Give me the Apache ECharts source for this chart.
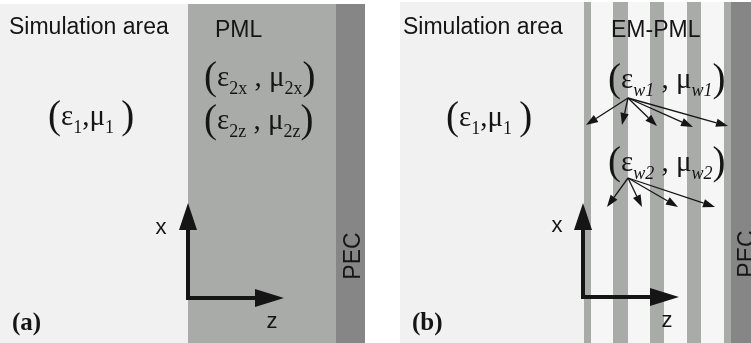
<!DOCTYPE html>
<html>
<head>
<meta charset="utf-8">
<script src="https://cdn.jsdelivr.net/npm/echarts@6/dist/echarts.min.js"></script>
<style>
html, body { margin: 0; padding: 0; background: #ffffff; }
#chart { width: 751px; height: 343px; }
</style>
</head>
<body>
<div id="chart"></div>
<script>
// ---- Layer layout (z runs left to right, x runs top to bottom, in layout units) ----
// Panel (a): simulation area | PML | PEC
const layerStartA = [0, 188, 336];
const layerEndA   = [188, 336, 365];
const layerKindA  = ['sim', 'pml', 'pec'];
// Panel (b): simulation area | alternating EM-PML sheets | PEC
const layerStartB = [400, 584, 591, 613, 628, 650, 664, 687, 701, 724, 731];
const layerEndB   = [584, 591, 613, 628, 650, 664, 687, 701, 724, 731, 751];
const layerKindB  = ['sim', 'w', 'v', 'w', 'v', 'w', 'v', 'w', 'v', 'w', 'pec'];
const panelTop    = [4, 2];
const panelBottom = 343;

// ---- Region titles ----
const titleText = ['Simulation area', 'PML', 'Simulation area', 'EM-PML'];
const titleX    = [9, 215, 403, 611];
const titleY    = [34, 37, 34, 37];

// ---- Material parameter expressions: '(' ')' large parens, '_' roman subscript, '~' italic subscript ----
const exprText = [
  '(|ε|_1|,|μ|_1| |)',
  '(|ε|_2x| , |μ|_2x|)',
  '(|ε|_2z| , |μ|_2z|)',
  '(|ε|_1|,|μ|_1| |)',
  '(|ε|~w1| , |μ|~w1|)',
  '(|ε|~w2| , |μ|~w2|)'
];
const exprX = [48, 204, 204, 446, 608, 608];
const exprY = [125, 86, 129, 126, 88, 171];

// ---- Pointer fans from the sheet parameters to the sheets ----
const fanOrigin = [[628, 98], [628, 178]];
const fanTargets = [
  [[586, 125], [622, 125], [657, 126], [693, 127], [728, 126]],
  [[607, 207], [642, 207], [678, 207], [715, 207]]
];

// ---- Coordinate frames: origin, x-axis tip, z-axis tip ----
const frameOrigin = [[188, 298], [583, 297]];
const frameXTip   = [[188, 203], [583, 203]];
const frameZTip   = [[284, 298], [679, 297]];
const axisLabel   = ['x', 'z', 'x', 'z'];
const axisLabelX  = [161, 272, 557, 667];
const axisLabelY  = [228, 322, 226, 321];

// ---- Boundary label and panel tags ----
const pecText = ['PEC', 'PEC'];
const pecX = [351, 745];
const pecY = [256, 254];
const tagText = ['(a)', '(b)'];
const tagX = [12, 412];
const tagY = [330, 330];

// ---- Styles ----
const materialColor = {
  sim: '#f1f1f1',
  pml: '#a9aba9',
  pec: '#858685',
  w:   '#a9aba9',
  v:   '#f6f6f6'
};
const INK = '#151515';
const SERIF = '"Liberation Serif", "Times New Roman", serif';
const SANS = '"Liberation Sans", Arial, sans-serif';
const FONT_MAIN = '29px ' + SERIF;
const FONT_PAREN = '39px ' + SERIF;
const FONT_SUB = '18px ' + SERIF;
const FONT_SUBI = 'italic 18px ' + SERIF;
const FONT_TITLE = '23px ' + SANS;
const FONT_AXIS = '22px ' + SANS;
const FONT_TAG = 'bold 25px ' + SERIF;
const SUB_DROP = 8;
const PAREN_DROP = 3;

// Canvas measuring helpers, so text can be placed by its alphabetic baseline
const mctx = document.createElement('canvas').getContext('2d');
function textWidth(font, s) {
  mctx.font = font; mctx.textBaseline = 'alphabetic';
  return mctx.measureText(s).width;
}
function capHeight(font) {
  mctx.font = font; mctx.textBaseline = 'alphabetic';
  return mctx.measureText('H').actualBoundingBoxAscent;
}
function middleToBaseline(font) {
  mctx.font = font; mctx.textBaseline = 'alphabetic';
  const a = mctx.measureText('H').actualBoundingBoxAscent;
  mctx.textBaseline = 'middle';
  const b = mctx.measureText('H').actualBoundingBoxAscent;
  return a - b;
}
function textEl(s, font, x, baseline, align) {
  const al = align || 'left';
  return {
    type: 'text',
    x: x,
    y: baseline - middleToBaseline(font),
    style: {
      text: s, font: font, fill: INK,
      align: al, textAlign: al,
      verticalAlign: 'middle', textVerticalAlign: 'middle'
    }
  };
}

function layerData(starts, ends, top) {
  return starts.map((s, i) => [s, ends[i], top, panelBottom]);
}
const layerKinds = layerKindA.concat(layerKindB);

function arrowHead(tip, from, len, half) {
  const dx = tip[0] - from[0], dy = tip[1] - from[1];
  const d = Math.sqrt(dx * dx + dy * dy);
  const ux = dx / d, uy = dy / d;
  const bx = tip[0] - ux * len, by = tip[1] - uy * len;
  return {
    base: [bx, by],
    pts: [tip, [bx - uy * half, by + ux * half], [bx + uy * half, by - ux * half]]
  };
}

const fanData = [];
fanOrigin.forEach((o, i) => fanTargets[i].forEach(t => fanData.push([o[0], o[1], t[0], t[1]])));

const frameData = frameOrigin.map((o, i) => [o[0], o[1], frameXTip[i][0], frameXTip[i][1], frameZTip[i][0], frameZTip[i][1]]);

const chart = echarts.init(document.getElementById('chart'), null, { renderer: 'canvas' });

const option = {
  animation: false,
  backgroundColor: '#ffffff',
  grid: { left: 0, right: 0, top: 0, bottom: 0 },
  xAxis: { type: 'value', min: 0, max: 751, show: false },
  yAxis: { type: 'value', min: 0, max: 343, inverse: true, show: false },
  series: [
    {
      // material layers
      type: 'custom',
      coordinateSystem: 'cartesian2d',
      silent: true,
      clip: false,
      data: layerData(layerStartA, layerEndA, panelTop[0]).concat(layerData(layerStartB, layerEndB, panelTop[1])),
      renderItem: function (params, api) {
        const p0 = api.coord([api.value(0), api.value(2)]);
        const p1 = api.coord([api.value(1), api.value(3)]);
        return {
          type: 'rect',
          shape: { x: p0[0], y: p0[1], width: p1[0] - p0[0], height: p1[1] - p0[1] },
          style: { fill: materialColor[layerKinds[params.dataIndex]] }
        };
      }
    },
    {
      // region titles
      type: 'custom',
      coordinateSystem: 'cartesian2d',
      silent: true,
      data: titleText.map((t, i) => [titleX[i], titleY[i]]),
      renderItem: function (params, api) {
        const p = api.coord([api.value(0), api.value(1)]);
        return textEl(titleText[params.dataIndex], FONT_TITLE, p[0], p[1]);
      }
    },
    {
      // material parameter expressions
      type: 'custom',
      coordinateSystem: 'cartesian2d',
      silent: true,
      data: exprText.map((t, i) => [exprX[i], exprY[i]]),
      renderItem: function (params, api) {
        const p = api.coord([api.value(0), api.value(1)]);
        const parts = exprText[params.dataIndex].split('|');
        const children = [];
        let x = p[0];
        parts.forEach(part => {
          let font = FONT_MAIN, s = part, base = p[1];
          if (part === '(' || part === ')') { font = FONT_PAREN; base = p[1] + PAREN_DROP; }
          else if (part[0] === '_') { font = FONT_SUB; s = part.slice(1); base = p[1] + SUB_DROP; }
          else if (part[0] === '~') { font = FONT_SUBI; s = part.slice(1); base = p[1] + SUB_DROP; }
          children.push(textEl(s, font, x, base));
          x += textWidth(font, s);
        });
        return { type: 'group', children: children };
      }
    },
    {
      // pointer fans
      type: 'custom',
      coordinateSystem: 'cartesian2d',
      silent: true,
      data: fanData,
      renderItem: function (params, api) {
        const a = api.coord([api.value(0), api.value(1)]);
        const b = api.coord([api.value(2), api.value(3)]);
        const head = arrowHead(b, a, 12, 4.2);
        return {
          type: 'group',
          children: [
            { type: 'line', shape: { x1: a[0], y1: a[1], x2: head.base[0], y2: head.base[1] },
              style: { stroke: INK, lineWidth: 1.3 } },
            { type: 'polygon', shape: { points: head.pts }, style: { fill: INK } }
          ]
        };
      }
    },
    {
      // coordinate frames
      type: 'custom',
      coordinateSystem: 'cartesian2d',
      silent: true,
      data: frameData,
      renderItem: function (params, api) {
        const o = api.coord([api.value(0), api.value(1)]);
        const xt = api.coord([api.value(2), api.value(3)]);
        const zt = api.coord([api.value(4), api.value(5)]);
        const hx = arrowHead(xt, o, 27, 9);
        const hz = arrowHead(zt, o, 29, 9);
        return {
          type: 'group',
          children: [
            { type: 'polyline', shape: { points: [hx.base, o, hz.base] },
              style: { stroke: INK, lineWidth: 4, fill: null, lineJoin: 'miter', lineCap: 'square' } },
            { type: 'polygon', shape: { points: hx.pts }, style: { fill: INK } },
            { type: 'polygon', shape: { points: hz.pts }, style: { fill: INK } }
          ]
        };
      }
    },
    {
      // axis letters
      type: 'custom',
      coordinateSystem: 'cartesian2d',
      silent: true,
      data: axisLabel.map((t, i) => [axisLabelX[i], axisLabelY[i]]),
      renderItem: function (params, api) {
        const p = api.coord([api.value(0), api.value(1)]);
        return {
          type: 'text', x: p[0], y: p[1],
          style: {
            text: axisLabel[params.dataIndex], font: FONT_AXIS, fill: INK,
            align: 'center', textAlign: 'center',
            verticalAlign: 'middle', textVerticalAlign: 'middle'
          }
        };
      }
    },
    {
      // PEC boundary labels, reading upward
      type: 'custom',
      coordinateSystem: 'cartesian2d',
      silent: true,
      clip: false,
      data: pecText.map((t, i) => [pecX[i], pecY[i]]),
      renderItem: function (params, api) {
        const p = api.coord([api.value(0), api.value(1)]);
        const ch = capHeight(FONT_TITLE);
        const t = textEl(pecText[params.dataIndex], FONT_TITLE, 0, ch / 2, 'center');
        return { type: 'group', x: p[0], y: p[1], rotation: Math.PI / 2, children: [t] };
      }
    },
    {
      // panel tags
      type: 'custom',
      coordinateSystem: 'cartesian2d',
      silent: true,
      data: tagText.map((t, i) => [tagX[i], tagY[i]]),
      renderItem: function (params, api) {
        const p = api.coord([api.value(0), api.value(1)]);
        return textEl(tagText[params.dataIndex], FONT_TAG, p[0], p[1]);
      }
    }
  ]
};

chart.setOption(option);
</script>
</body>
</html>
